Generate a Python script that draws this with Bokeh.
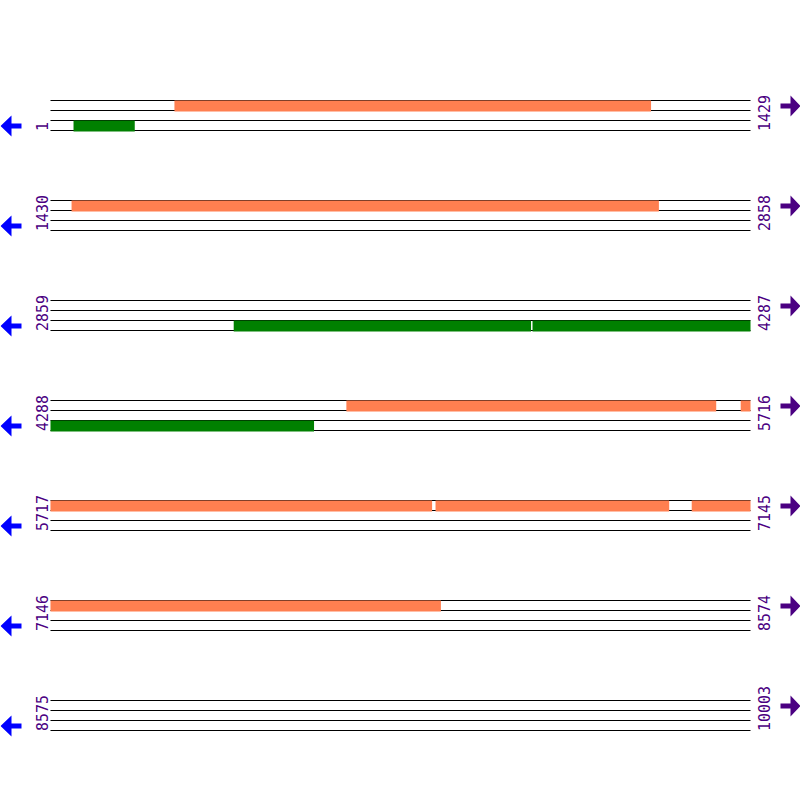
from math import pi
from bokeh.plotting import figure
from bokeh.models import Range1d, ColumnDataSource
from bokeh.core.properties import value
from bokeh.embed import file_html
from bokeh.resources import INLINE

# ---- data ----
seq_len = 10003
row_len = 1429
row_starts = [1, 1430, 2859, 4288, 5717, 7146, 8575]
row_ends = [1429, 2858, 4287, 5716, 7145, 8574, 10003]

feat_start = [254, 48, 1473, 3233, 3843, 4892, 5697, 6503, 7026]
feat_end = [1226, 172, 2671, 3839, 4825, 5646, 6495, 6979, 7942]
feat_strand = [1, -1, 1, -1, -1, 1, 1, 1, 1]

fwd_color = "#FF7F50"
rev_color = "#008000"
label_color = "#4B0082"
left_arrow_color = "#0000FF"
right_arrow_color = "#4B0082"

# ---- layout ----
W, H = 800, 800
x0_px, x1_px = 50, 750
s = (x1_px - x0_px) / row_len  # px per bp


def px(v):
    return (v - x0_px) / s


p = figure(width=W, height=H, output_backend="svg", toolbar_location=None,
           x_range=Range1d(px(0), px(W)), y_range=Range1d(H, 0),
           min_border=0, x_axis_location=None, y_axis_location=None,
           outline_line_color=None, background_fill_color="white",
           border_fill_color="white")
p.grid.visible = False

row_base = [100 + 100 * i for i in range(len(row_starts))]

# strand lines
lx0, lx1, ly = [], [], []
for b in row_base:
    for k in range(4):
        lx0.append(0)
        lx1.append(row_len)
        ly.append(b + 10 * k)
p.segment(x0=lx0, x1=lx1, y0=ly, y1=ly, line_color="black", line_width=1)

# features split across rows
ql, qr, qt, qb, qc = [], [], [], [], []
for fs, fe, st in zip(feat_start, feat_end, feat_strand):
    for rs, re, b in zip(row_starts, row_ends, row_base):
        lo, hi = max(fs, rs), min(fe, re)
        if lo <= hi:
            ql.append(lo - rs)
            qr.append(hi - rs + 1)
            if st > 0:
                qt.append(b)
                qb.append(b + 11)
                qc.append(fwd_color)
            else:
                qt.append(b + 20)
                qb.append(b + 31)
                qc.append(rev_color)
p.quad(left=ql, right=qr, top=qt, bottom=qb, fill_color=qc, line_color=None)

# position labels
font = value("DejaVu Sans Mono")
p.text(x=[px(41)] * len(row_starts), y=[b + 30.5 for b in row_base],
       text=[str(v) for v in row_starts], angle=pi / 2, text_font=font,
       text_font_size="15px", text_color=label_color,
       text_align="left", text_baseline="alphabetic")
p.text(x=[px(763.5)] * len(row_ends), y=[b + 30.5 for b in row_base],
       text=[str(v) for v in row_ends], angle=pi / 2, text_font=font,
       text_font_size="15px", text_color=label_color,
       text_align="left", text_baseline="alphabetic")

# strand direction arrows
left_shape = [(0, 25.5), (11, 15), (11, 23), (21, 23), (21, 28), (11, 28), (11, 36)]
right_shape = [(800, 5.5), (790, -5), (790, 3), (780, 3), (780, 8), (790, 8), (790, 16)]
axs, ays, acs = [], [], []
for b in row_base:
    axs.append([px(x) for x, _ in left_shape])
    ays.append([b + y for _, y in left_shape])
    acs.append(left_arrow_color)
    axs.append([px(x) for x, _ in right_shape])
    ays.append([b + y for _, y in right_shape])
    acs.append(right_arrow_color)
p.patches(xs=axs, ys=ays, fill_color=acs, line_color=None)

open("out.html", "w").write(file_html(p, INLINE))
